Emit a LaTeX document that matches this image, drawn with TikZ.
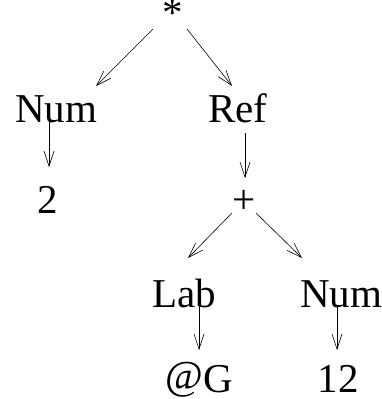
\documentclass[tikz,border=0pt]{standalone}
\usepackage{fontspec}
\setmainfont{Liberation Serif}
\usetikzlibrary{arrows.meta}
\begin{document}
\begin{tikzpicture}[x=1pt,y=1pt,
  lbl/.style={inner sep=0pt,anchor=base,font=\fontsize{41}{41}\selectfont},
  arr/.style={line width=0.6pt,-{Straight Barb[length=15pt,width=10pt,line width=0.6pt]}}]
\useasboundingbox (0,0) rectangle (381,-399);
% tree labels
\node[lbl] (star) at (173,-26) {*};
\node[lbl] (numL) at (56,-122) {Num};
\node[lbl] (ref) at (238,-122) {Ref};
\node[lbl] (two) at (48,-213) {2};
\node[lbl] (plus) at (244,-213) {+};
\node[lbl] (lab) at (184,-307) {Lab};
\node[lbl] (numR) at (341,-307) {Num};
\node[lbl] (atg) at (199,-392) {\raisebox{3pt}{@}G};
\node[lbl] (twelve) at (338,-392) {12};
% edges
\draw[arr] ([shift={(-20,-3)}]star.base) -- ([shift={(40,36)}]numL.base);
\draw[arr] ([shift={(14,-3)}]star.base) -- ([shift={(-6,36)}]ref.base);
\draw[arr] ([shift={(-7,0)}]numL.base) -- ([shift={(1,46)}]two.base);
\draw[arr] ([shift={(7,-11)}]ref.base) -- ([shift={(1,35)}]plus.base);
\draw[arr] ([shift={(-12,0)}]plus.base) -- ([shift={(4,49)}]lab.base);
\draw[arr] ([shift={(12,0)}]plus.base) -- ([shift={(-39,49)}]numR.base);
\draw[arr] ([shift={(15,1)}]lab.base) -- ([shift={(0,42)}]atg.base);
\draw[arr] ([shift={(-4,1)}]numR.base) -- ([shift={(-1,42)}]twelve.base);
\end{tikzpicture}
\end{document}
